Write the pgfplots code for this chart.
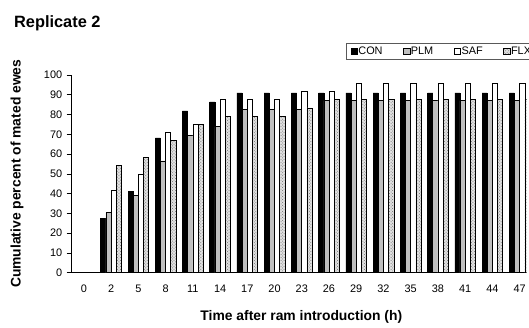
\documentclass[border=0pt]{standalone}
\usepackage{pgfplots}
\pgfplotsset{compat=1.18}
\usepackage{fontspec}
\setmainfont{Liberation Sans}
\usetikzlibrary{patterns}
\newcommand{\lf}{\fontsize{11}{12.5}\selectfont}
\begin{document}
\begin{tikzpicture}
\path (-72bp,-55bp) rectangle (457bp,274bp);
\begin{axis}[
  at={(0,0)}, anchor=south west,
  width=457bp, height=198.7bp, scale only axis,
  xmin=-0.45, xmax=16.25, ymin=0, ymax=100,
  axis lines*=left,
  axis line style={black, line width=0.7bp},
  ybar=0pt, bar width=5.2bp,
  xtick={0,...,16},
  xticklabels={0,2,5,8,11,14,17,20,23,26,29,32,35,38,41,44,47},
  xtick style={draw=none},
  ytick={0,10,...,100},
  ytick pos=left, tick align=outside, major tick length=5bp,
  ytick style={black, line width=0.6bp},
  /pgf/number format/assume math mode=true,
  tick label style={font=\fontsize{11}{12}\selectfont},
  yticklabel style={xshift=-1bp},
  xticklabel style={yshift=-4bp},
  xlabel={Time after ram introduction (h)},
  ylabel={Cumulative percent of mated ewes},
  label style={font=\bfseries\fontsize{14}{16}\selectfont},
  xlabel style={at={(axis description cs:0.505,-0.225)}, anchor=center},
  ylabel style={at={(axis description cs:-0.120,0.5)}, anchor=center},
  legend columns=4,
  legend style={at={(axis description cs:0.604,1.163)}, anchor=north west,
    draw=black!65, line width=0.6bp, inner xsep=4bp, inner ysep=3.2bp, overlay,
    font=\lf,
    nodes={inner sep=0.6bp, anchor=west},
    /tikz/every even column/.append style={column sep=20bp}},
  legend image code/.code={\draw[#1, line width=0.5bp] (0bp,-3.3bp) rectangle (6.7bp,3.3bp);},
  every axis plot/.append style={draw=black, line width=0.6bp},
]
\addplot[fill=black] coordinates {(1,27.3) (2,40.9) (3,68.2) (4,81.8) (5,86.4) (6,90.9) (7,90.9) (8,90.9) (9,90.9) (10,90.9) (11,90.9) (12,90.9) (13,90.9) (14,90.9) (15,90.9) (16,90.9)};
\addplot[fill=black!25] coordinates {(1,30.4) (2,39.1) (3,56.5) (4,69.6) (5,73.9) (6,82.6) (7,82.6) (8,82.6) (9,87.0) (10,87.0) (11,87.0) (12,87.0) (13,87.0) (14,87.0) (15,87.0) (16,87.0)};
\addplot[fill=white] coordinates {(1,41.7) (2,50.0) (3,70.8) (4,75.0) (5,87.5) (6,87.5) (7,87.5) (8,91.7) (9,91.7) (10,95.8) (11,95.8) (12,95.8) (13,95.8) (14,95.8) (15,95.8) (16,95.8)};
\addplot[fill=black!12, postaction={pattern=crosshatch dots, pattern color=black!55}] coordinates {(1,54.2) (2,58.3) (3,66.7) (4,75.0) (5,79.2) (6,79.2) (7,79.2) (8,83.3) (9,87.5) (10,87.5) (11,87.5) (12,87.5) (13,87.5) (14,87.5) (15,87.5) (16,87.5)};
\legend{{\lf CON},{\lf PLM},{\lf SAF},{\lf FLX}}
\end{axis}
\node[anchor=base west, font=\bfseries\fontsize{16.5}{18}\selectfont, inner sep=0pt] at (-58bp,246bp) {Replicate 2};
\end{tikzpicture}
\end{document}
